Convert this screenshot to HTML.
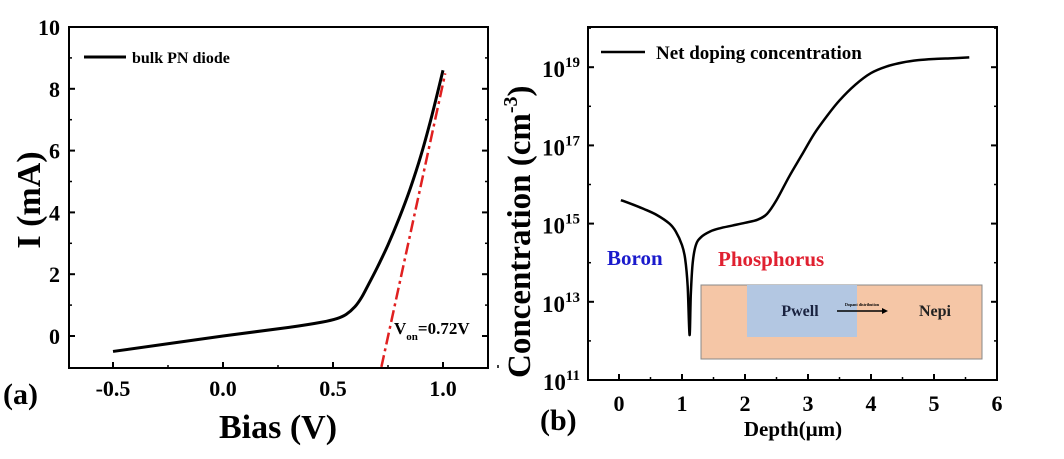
<!DOCTYPE html>
<html><head><meta charset="utf-8"><style>
body{margin:0;background:#fff;width:1064px;height:454px;overflow:hidden}
text{font-family:"Liberation Serif",serif;font-weight:bold}
</style></head><body>
<svg id="svg" width="1064" height="454" xmlns="http://www.w3.org/2000/svg">
<g id="a"></g>
<g id="b"></g>
</svg>
<script>
const biasV=[-0.5,0,0.3,0.45,0.52,0.56,0.6,0.63,0.66,0.7,0.75,0.8,0.85,0.9,0.95,1.0];
const currentMA=[-0.5,0,0.28,0.45,0.57,0.7,0.95,1.25,1.65,2.2,2.95,3.8,4.75,5.85,7.15,8.6];
const fitX=[0.72,1.01];
const fitY=[-1,8.5];
const aXTicks=[-0.5,0.0,0.5,1.0];
const aXLabels=["-0.5","0.0","0.5","1.0"];
const aYTicks=[0,2,4,6,8,10];
const depth=[0.03,0.2,0.4,0.6,0.8,0.9,1.0,1.05,1.09,1.12,1.14,1.17,1.22,1.3,1.45,1.6,1.8,2.0,2.2,2.35,2.5,2.7,2.9,3.1,3.3,3.5,3.75,4.0,4.25,4.5,4.75,5.0,5.3,5.56];
const logConc=[15.6,15.5,15.37,15.22,15.0,14.8,14.45,14.1,13.4,12.15,13.2,14.0,14.45,14.65,14.8,14.88,14.95,15.02,15.1,15.25,15.6,16.2,16.75,17.3,17.75,18.15,18.55,18.85,19.02,19.12,19.18,19.21,19.23,19.25];
const bXTicks=[0,1,2,3,4,5,6];
const bYTicks=[11,13,15,17,19];
const NS="http://www.w3.org/2000/svg";
function mk(p,t,at,txt){const e=document.createElementNS(NS,t);for(const k in at)e.setAttribute(k,at[k]);if(txt!==undefined)e.textContent=txt;p.appendChild(e);return e;}
function smooth(pts){let d='M'+pts[0][0]+','+pts[0][1];for(let i=0;i<pts.length-1;i++){const p0=pts[Math.max(0,i-1)],p1=pts[i],p2=pts[i+1],p3=pts[Math.min(pts.length-1,i+2)];const k=1/6;d+=' C'+(p1[0]+(p2[0]-p0[0])*k)+','+(p1[1]+(p2[1]-p0[1])*k)+' '+(p2[0]-(p3[0]-p1[0])*k)+','+(p2[1]-(p3[1]-p1[1])*k)+' '+p2[0]+','+p2[1];}return d;}
// Panel a
const A=document.getElementById('a');
const ax=v=>113+(v+0.5)*220, ay=v=>336-v*30.9;
let e;
e=mk(A,'rect',{x:69,y:27,width:419,height:341,fill:'none',stroke:'#000','stroke-width':2});

aXTicks.forEach((t,i)=>{
 e=mk(A,'line',{x1:ax(t),x2:ax(t),y1:368,y2:362,stroke:'#000','stroke-width':2});
 
 e=mk(A,'line',{x1:ax(t+0.25),x2:ax(t+0.25),y1:368,y2:365,stroke:'#000','stroke-width':1.5});
 
 e=mk(A,'text',{x:ax(t),y:396,'font-size':22,'text-anchor':'middle'},aXLabels[i]);
 
});
aYTicks.forEach(t=>{
 [69,488].forEach(xx=>{e=mk(A,'line',{x1:xx,x2:xx+(xx<100?6:-6),y1:ay(t),y2:ay(t),stroke:'#000','stroke-width':2});
 });
 if(t<10){[69,488].forEach(xx=>{e=mk(A,'line',{x1:xx,x2:xx+(xx<100?3:-3),y1:ay(t+1),y2:ay(t+1),stroke:'#000','stroke-width':1.5});
 });}
 e=mk(A,'text',{x:60,y:ay(t)+8,'font-size':22,'text-anchor':'end'},String(t));
 
});
e=mk(A,'path',{d:smooth(biasV.map((v,i)=>[ax(v),ay(currentMA[i])])),fill:'none',stroke:'#000','stroke-width':3,'stroke-linejoin':'round'});

e=mk(A,'line',{x1:ax(fitX[0]),y1:ay(fitY[0]),x2:ax(fitX[1]),y2:ay(fitY[1]),stroke:'#e02020','stroke-width':2.5,'stroke-dasharray':'12 4 3 4'});

e=mk(A,'line',{x1:84,x2:126,y1:57,y2:57,stroke:'#000','stroke-width':3});

e=mk(A,'text',{x:132,y:63,'font-size':16},'bulk PN diode');

e=mk(A,'text',{x:394,y:334,'font-size':17},'');
mk(e,'tspan',{},'V');mk(e,'tspan',{dy:6,'font-size':11},'on');mk(e,'tspan',{dy:-6},'=0.72V');
e=mk(A,'text',{x:278,y:438,'font-size':34,'text-anchor':'middle'},'Bias (V)');
e=mk(A,'text',{x:0,y:0,'font-size':34,'text-anchor':'middle',transform:'translate(40,200) rotate(-90)'},'I (mA)');
e=mk(A,'text',{x:3,y:404,'font-size':30},'(a)');
// Panel b
const B=document.getElementById('b');
const bx=v=>619+v*63, by=v=>380-(v-11)*39.1;
e=mk(B,'rect',{x:701,y:285,width:281,height:74,fill:'#f5c6a6',stroke:'#888','stroke-width':1});

e=mk(B,'rect',{x:747,y:285,width:110,height:52,fill:'#b3c7e2'});

e=mk(B,'text',{x:800,y:316,'font-size':16,'text-anchor':'middle',fill:'#1a2340'},'Pwell');
e=mk(B,'text',{x:935,y:316,'font-size':16,'text-anchor':'middle',fill:'#222'},'Nepi');
e=mk(B,'text',{x:862,y:306,'font-size':4,'text-anchor':'middle'},'Dopant distribution');
e=mk(B,'line',{x1:837,x2:882,y1:311,y2:311,stroke:'#000','stroke-width':1.5});
e=mk(B,'path',{d:'M882,308 L888,311 L882,314 Z',fill:'#000'});
e=mk(B,'rect',{x:588,y:27,width:409,height:353,fill:'none',stroke:'#000','stroke-width':2});

bXTicks.forEach(t=>{
 e=mk(B,'line',{x1:bx(t),x2:bx(t),y1:380,y2:374,stroke:'#000','stroke-width':2});
 if(t<6){e=mk(B,'line',{x1:bx(t+0.5),x2:bx(t+0.5),y1:380,y2:377,stroke:'#000','stroke-width':1.5});}
 e=mk(B,'text',{x:bx(t),y:411,'font-size':22,'text-anchor':'middle'},String(t));
});
bYTicks.forEach(t=>{
 [588,997].forEach(xx=>{e=mk(B,'line',{x1:xx,x2:xx+(xx<700?6:-6),y1:by(t),y2:by(t),stroke:'#000','stroke-width':2});
 e=mk(B,'line',{x1:xx,x2:xx+(xx<700?3:-3),y1:by(t+1),y2:by(t+1),stroke:'#000','stroke-width':1.5});});
 e=mk(B,'text',{x:580,y:by(t)+10,'font-size':23,'text-anchor':'end'},'');
 
 mk(e,'tspan',{},'10');mk(e,'tspan',{dy:-10,'font-size':15},String(t));
});
e=mk(B,'path',{d:smooth(depth.map((v,i)=>[bx(v),by(logConc[i])])),fill:'none',stroke:'#000','stroke-width':2.5,'stroke-linejoin':'round'});

e=mk(B,'line',{x1:601,x2:645,y1:52,y2:52,stroke:'#000','stroke-width':2.5});
e=mk(B,'text',{x:656,y:59,'font-size':19},'Net doping concentration');
e=mk(B,'text',{x:607,y:265,'font-size':21,fill:'#1a1acc'},'Boron');
e=mk(B,'text',{x:718,y:266,'font-size':21,fill:'#e02030'},'Phosphorus');
e=mk(B,'text',{x:793,y:436,'font-size':21,'text-anchor':'middle'},'Depth(μm)');
e=mk(B,'text',{x:0,y:0,'font-size':33,transform:'translate(530,378) rotate(-90)'},'');

mk(e,'tspan',{},'Concentration (cm');mk(e,'tspan',{dy:-13,'font-size':20},'-3');mk(e,'tspan',{dy:13},')');
e=mk(B,'text',{x:540,y:430,'font-size':30},'(b)');
</script>
</body></html>
